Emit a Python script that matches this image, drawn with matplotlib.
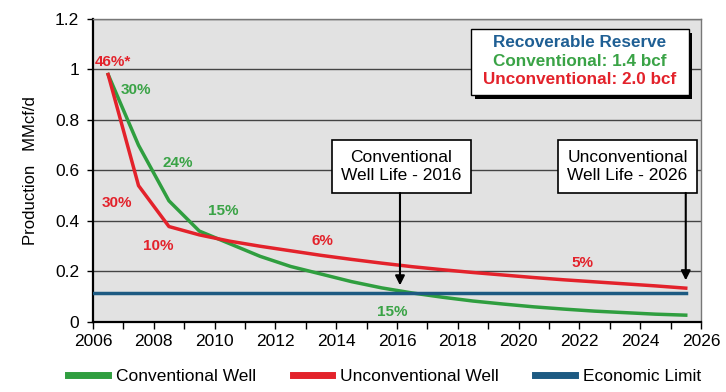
import matplotlib
matplotlib.use("Agg")
import matplotlib.pyplot as plt
from matplotlib.ticker import MultipleLocator
from matplotlib.patches import Rectangle

plt.rcParams['font.family'] = ['Liberation Sans', 'DejaVu Sans']

# data
years = [2006.5, 2007.5, 2008.5, 2009.5, 2010.5, 2011.5, 2012.5, 2013.5, 2014.5, 2015.5,
         2016.5, 2017.5, 2018.5, 2019.5, 2020.5, 2021.5, 2022.5, 2023.5, 2024.5, 2025.5]
conventional = [0.98, 0.70, 0.48, 0.36, 0.31, 0.26, 0.22, 0.19, 0.16, 0.135,
                0.115, 0.098, 0.083, 0.071, 0.060, 0.051, 0.043, 0.037, 0.031, 0.027]
unconventional = [0.98, 0.54, 0.378, 0.345, 0.32, 0.30, 0.282, 0.264, 0.248, 0.233,
                  0.219, 0.207, 0.196, 0.186, 0.176, 0.167, 0.159, 0.151, 0.143, 0.134]
econ_years = [2006, 2025.5]
econ_limit = [0.115, 0.115]

conv_labels = [("30%", 2006.9, 0.92), ("24%", 2008.3, 0.63), ("15%", 2009.8, 0.44), ("15%", 2015.35, 0.04)]
unconv_labels = [("46%*", 2006.05, 1.03), ("30%", 2006.3, 0.47), ("10%", 2007.65, 0.30),
                 ("6%", 2013.2, 0.32), ("5%", 2021.75, 0.235)]

reserve_lines = [("Recoverable Reserve", "#1f5f94"),
                 ("Conventional: 1.4 bcf", "#3aa346"),
                 ("Unconventional: 2.0 bcf", "#e3222b")]

# (text, box centre x, box centre y, arrow x, arrow tip y)
callouts = [("Conventional\nWell Life - 2016", 2016.15, 0.615, 2016.1, 0.145),
            ("Unconventional\nWell Life - 2026", 2023.58, 0.615, 2025.5, 0.165)]
callout_bottom = 0.511

GREEN = "#2f9e3f"
RED = "#e3222b"
BLUE = "#1d5a82"

fig = plt.figure(figsize=(7.26, 3.92), dpi=100)
ax = fig.add_axes([0.128, 0.1786, 0.8375, 0.773])
ax.set_facecolor("#e2e2e2")

ax.plot(years, conventional, color=GREEN, lw=2.5, label="Conventional Well", zorder=3)
ax.plot(years, unconventional, color=RED, lw=2.5, label="Unconventional Well", zorder=3)
ax.plot(econ_years, econ_limit, color=BLUE, lw=2.5, label="Economic Limit", zorder=3)

ax.set_xlim(2006, 2026)
ax.set_ylim(0, 1.2)
ax.xaxis.set_major_locator(MultipleLocator(2))
ax.xaxis.set_minor_locator(MultipleLocator(1))
ax.set_yticks([0, 0.2, 0.4, 0.6, 0.8, 1.0, 1.2])
ax.set_yticklabels(["0", "0.2", "0.4", "0.6", "0.8", "1", "1.2"])
ax.tick_params(axis="both", labelsize=12.5, direction="out", colors="black")
ax.tick_params(axis="x", which="both", length=5, width=1, pad=4)
ax.tick_params(axis="y", length=4, width=1, pad=6)
ax.grid(axis="y", color="#444444", lw=1.0, zorder=1)

for s in ["left", "bottom"]:
    ax.spines[s].set_linewidth(1.6)
    ax.spines[s].set_color("black")
for s in ["top", "right"]:
    ax.spines[s].set_linewidth(1.0)
    ax.spines[s].set_color("#777777")

ax.set_ylabel("Production   MMcf/d", fontsize=12, labelpad=12)

for txt, x, y in conv_labels:
    ax.text(x, y, txt, color="#3aa346", fontsize=11, fontweight="bold", ha="left", va="center", zorder=4)
for txt, x, y in unconv_labels:
    ax.text(x, y, txt, color=RED, fontsize=11, fontweight="bold", ha="left", va="center", zorder=4)

# reserve box with drop shadow
bx, by, bw, bh = 0.622, 0.749, 0.358, 0.218
ax.add_patch(Rectangle((bx + 0.006, by - 0.012), bw, bh, transform=ax.transAxes,
                       fc="black", ec="none", zorder=5))
ax.add_patch(Rectangle((bx, by), bw, bh, transform=ax.transAxes,
                       fc="white", ec="black", lw=1.0, zorder=6))
for (txt, col), yy in zip(reserve_lines, [0.924, 0.860, 0.799]):
    ax.text(bx + bw / 2, yy, txt, transform=ax.transAxes, ha="center", va="center",
            fontsize=12.3, fontweight="bold", color=col, zorder=7)

# well life callouts: box plus a straight vertical arrow
for txt, cx, cy, axx, tip in callouts:
    ax.text(cx, cy, txt, ha="center", va="center", fontsize=12.5, linespacing=1.3, zorder=5,
            bbox=dict(boxstyle="square,pad=0.55", fc="white", ec="black", lw=1.2))
    ax.annotate("", xy=(axx, tip), xytext=(axx, callout_bottom), zorder=5,
                arrowprops=dict(arrowstyle="-|>", color="black", lw=1.5, mutation_scale=14,
                                shrinkA=0, shrinkB=0))

leg = fig.legend(loc="center", bbox_to_anchor=(0.53, 0.04), ncol=3, frameon=False,
                 fontsize=12.5, handlelength=2.3, columnspacing=2.1, handletextpad=0.45)
for line in leg.get_lines():
    line.set_linewidth(5)

fig.savefig("out.png", dpi=100, facecolor="white")
